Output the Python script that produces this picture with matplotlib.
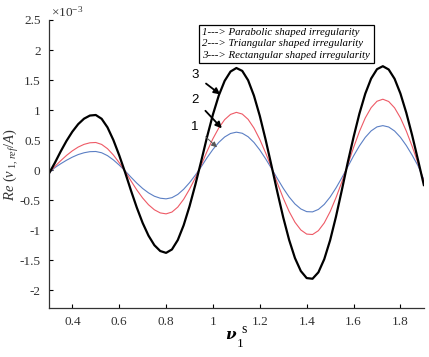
import matplotlib
matplotlib.use("Agg")
import matplotlib.pyplot as plt

plt.rcParams['font.family'] = ['Liberation Serif', 'DejaVu Serif']
plt.rcParams['mathtext.fontset'] = 'custom'
plt.rcParams['mathtext.rm'] = 'Liberation Serif'
plt.rcParams['mathtext.it'] = 'Liberation Serif:italic'

x = [0.300, 0.325, 0.350, 0.375, 0.400, 0.425, 0.450, 0.475, 0.500, 0.525,
     0.550, 0.575, 0.600, 0.625, 0.650, 0.675, 0.700, 0.725, 0.750, 0.775,
     0.800, 0.825, 0.850, 0.875, 0.900, 0.925, 0.950, 0.975, 1.000, 1.025,
     1.050, 1.075, 1.100, 1.125, 1.150, 1.175, 1.200, 1.225, 1.250, 1.275,
     1.300, 1.325, 1.350, 1.375, 1.400, 1.425, 1.450, 1.475, 1.500, 1.525,
     1.550, 1.575, 1.600, 1.625, 1.650, 1.675, 1.700, 1.725, 1.750, 1.775,
     1.800, 1.825, 1.850, 1.875, 1.900]

# values in units of 1e-3
rect = [-0.06, 0.117, 0.308, 0.485, 0.639, 0.765, 0.856, 0.908, 0.917, 0.854,
        0.711, 0.501, 0.246, -0.037, -0.339, -0.625, -0.881, -1.093, -1.252, -1.349,
        -1.380, -1.323, -1.166, -0.920, -0.605, -0.242, 0.149, 0.554, 0.926, 1.243,
        1.486, 1.641, 1.700, 1.652, 1.496, 1.239, 0.901, 0.502, 0.070, -0.370,
        -0.790, -1.163, -1.467, -1.683, -1.800, -1.811, -1.704, -1.485, -1.170, -0.777,
        -0.335, 0.122, 0.548, 0.940, 1.272, 1.524, 1.680, 1.730, 1.675, 1.521,
        1.275, 0.955, 0.580, 0.169, -0.25]

tri = [-0.05, 0.059, 0.154, 0.243, 0.320, 0.383, 0.428, 0.454, 0.459, 0.427,
       0.356, 0.251, 0.123, -0.020, -0.179, -0.331, -0.466, -0.578, -0.662, -0.714,
       -0.730, -0.700, -0.617, -0.487, -0.320, -0.128, 0.084, 0.313, 0.523, 0.702,
       0.840, 0.927, 0.961, 0.933, 0.845, 0.700, 0.509, 0.284, 0.040, -0.219,
       -0.468, -0.690, -0.870, -0.998, -1.067, -1.074, -1.010, -0.881, -0.694, -0.461,
       -0.199, 0.083, 0.374, 0.641, 0.868, 1.039, 1.146, 1.180, 1.142, 1.037,
       0.870, 0.651, 0.396, 0.115, -0.19]

para = [-0.05, 0.039, 0.104, 0.163, 0.215, 0.258, 0.288, 0.306, 0.309, 0.288,
        0.240, 0.169, 0.083, -0.013, -0.118, -0.218, -0.307, -0.380, -0.436, -0.469,
        -0.480, -0.460, -0.406, -0.320, -0.211, -0.084, 0.055, 0.206, 0.344, 0.461,
        0.551, 0.609, 0.631, 0.613, 0.555, 0.460, 0.334, 0.186, 0.026, -0.142,
        -0.304, -0.448, -0.565, -0.648, -0.693, -0.697, -0.656, -0.572, -0.450, -0.299,
        -0.129, 0.052, 0.235, 0.402, 0.544, 0.652, 0.719, 0.740, 0.717, 0.651,
        0.546, 0.409, 0.248, 0.072, -0.16]

xticks = [0.4, 0.6, 0.8, 1.0, 1.2, 1.4, 1.6, 1.8]
xtick_labels = ['0.4', '0.6', '0.8', '1', '1.2', '1.4', '1.6', '1.8']
yticks = [-2, -1.5, -1, -0.5, 0, 0.5, 1, 1.5, 2, 2.5]
ytick_labels = ['-2', '-1.5', '-1', '-0.5', '0', '0.5', '1', '1.5', '2', '2.5']

legend_lines = ['1---> Parabolic shaped irregularity',
                '2---> Triangular shaped irregularity',
                '3---> Rectangular shaped irregularity']

fig = plt.figure(figsize=(4.29, 3.57), dpi=100)
ax = fig.add_axes([0.114, 0.137, 0.874, 0.807])

ax.plot(x, para, color='#5b7fc4', lw=0.8)
ax.plot(x, tri, color='#ee5a66', lw=0.8)
ax.plot(x, rect, color='black', lw=1.6, solid_joinstyle='round')

ax.set_xlim(0.3, 1.9)
ax.set_ylim(-2.3, 2.5)
ax.set_xticks(xticks)
ax.set_xticklabels(xtick_labels, family='Liberation Serif', fontsize=9.5, color='#333333')
ax.set_yticks(yticks)
ax.set_yticklabels(ytick_labels, family='Liberation Serif', fontsize=9.5, color='#333333')
ax.tick_params(direction='in', length=3, width=0.8, pad=6)
for s in ['top', 'right']:
    ax.spines[s].set_visible(False)
for s in ['left', 'bottom']:
    ax.spines[s].set_linewidth(0.9)
    ax.spines[s].set_color('#333333')

fig.text(0.12, 0.965, r'$\times 10^{-3}$', fontsize=9.5, color='#333333', va='center', ha='left')

ax.set_ylabel(r'$Re\ (v_{\ 1,ref}/A)$', fontsize=10.5, color='#333333', labelpad=-1)

# x label pieces
fig.text(0.524, 0.062, 'ν', family='DejaVu Serif', fontweight='bold', style='italic',
         fontsize=11, ha='left', va='center')
fig.text(0.551, 0.036, '1', family='Liberation Serif', fontsize=9.5, ha='left', va='center')
fig.text(0.563, 0.078, 's', family='Liberation Serif', fontsize=10, ha='left', va='center')

# legend box
fig.text(0.472, 0.877, '\n'.join(legend_lines), family='Liberation Serif', style='italic',
         fontsize=7.8, ha='left', va='center', linespacing=1.3,
         bbox=dict(boxstyle='square,pad=0.35', fc='white', ec='black', lw=0.9))

# annotations
ann_font = dict(fontsize=9.5, family='Liberation Sans', ha='center', va='center')
ax.annotate('3', xy=(1.031, 1.26), xytext=(0.924, 1.58), **ann_font,
            arrowprops=dict(arrowstyle='-|>', color='black', lw=1.3, mutation_scale=9, shrinkA=4, shrinkB=0))
ax.annotate('2', xy=(1.038, 0.695), xytext=(0.924, 1.17), **ann_font,
            arrowprops=dict(arrowstyle='-|>', color='black', lw=1.3, mutation_scale=9, shrinkA=4, shrinkB=0))
ax.annotate('1', xy=(1.017, 0.378), xytext=(0.924, 0.72), **ann_font,
            arrowprops=dict(arrowstyle='-|>', color='#555555', lw=0.7, mutation_scale=8, shrinkA=4, shrinkB=0))

fig.savefig('out.png', dpi=100)
